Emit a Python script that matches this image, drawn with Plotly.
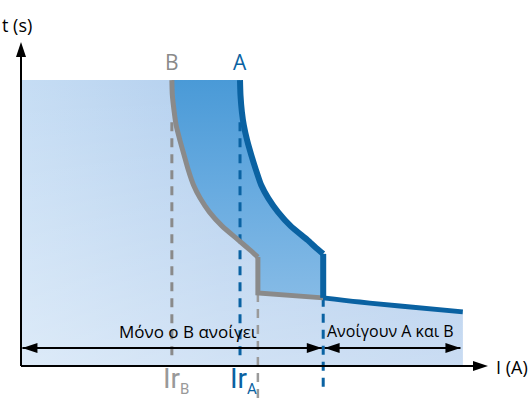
import plotly.graph_objects as go

# ---------------- data (arbitrary units: current I on x, time t on y) ----------------
curve_B_I = [32.1, 32.2, 32.6, 33.0, 33.8, 34.7, 35.6, 36.7, 38.1, 40.1, 42.8, 46.2, 48.7, 50.4]
curve_B_t = [87.7, 83.1, 77.9, 73.9, 69.3, 64.7, 60.1, 55.5, 51.5, 47.2, 42.9, 38.7, 35.6, 33.4]
tail_B_I = [50.4, 50.4, 64.3]
tail_B_t = [33.4, 22.4, 20.9]

curve_A_I = [46.6, 46.7, 47.0, 47.4, 48.1, 49.0, 50.0, 51.1, 52.6, 54.7, 57.4, 60.9, 62.8, 64.3]
curve_A_t = [87.7, 83.1, 77.9, 73.9, 69.3, 64.7, 60.1, 55.5, 51.5, 47.2, 42.9, 38.7, 36.2, 34.4]
tail_A_I = [64.3, 64.3, 72.1, 80.6, 94.0]
tail_A_t = [34.4, 20.9, 19.6, 18.4, 16.6]

t_top = 87.7          # upper limit of the curves
Ir_B = 32.1
Ir_A = 46.6
Ir_B_inst = 50.4
Ir_A_inst = 64.3
I_max = 94.0
arrow_t = 5.5
label_t = 10.7

GRAY = "#8a8a8a"
BLUE = "#0a62a2"
FONT = "Open Sans"

# pixel scale (for layout only)
SX = 4.7
SY = 3.26
x_range = [-21 / SX, 510 / SX]
y_range = [-32 / SY, 366 / SY]

fig = go.Figure()

# light fill: region under curve A
lx = [0, 0] + curve_A_I + tail_A_I[1:] + [I_max, 0]
ly = [0, t_top] + curve_A_t + tail_A_t[1:] + [0, 0]
fig.add_trace(go.Scatter(x=lx, y=ly, mode="lines", line=dict(width=0), fill="toself",
                         fillgradient=dict(type="horizontal", start=0, stop=I_max,
                                           colorscale=[[0, "#c6ddf4"], [0.45, "#b3cfee"], [1, "#a6c5ea"]]),
                         hoverinfo="skip", showlegend=False))
fig.add_trace(go.Scatter(x=lx, y=ly, mode="lines", line=dict(width=0), fill="toself",
                         fillgradient=dict(type="vertical", start=0, stop=t_top,
                                           colorscale=[[0, "rgba(255,255,255,0.4)"], [1, "rgba(255,255,255,0)"]]),
                         hoverinfo="skip", showlegend=False))

# dark fill: between curve B and curve A
dx = curve_B_I + tail_B_I[1:] + list(reversed(tail_A_I[:2])) + list(reversed(curve_A_I))
dy = curve_B_t + tail_B_t[1:] + list(reversed(tail_A_t[:2])) + list(reversed(curve_A_t))
fig.add_trace(go.Scatter(x=dx, y=dy, mode="lines", line=dict(width=0), fill="toself",
                         fillgradient=dict(type="vertical", start=20, stop=t_top,
                                           colorscale=[[0, "#86bbe6"], [0.5, "#68abe0"], [1, "#4a9ad7"]]),
                         hoverinfo="skip", showlegend=False))

# dashed reference lines
dash = "9px,7px"
fig.add_trace(go.Scatter(x=[Ir_B, Ir_B], y=[74.8, 2.8], mode="lines",
                         line=dict(color=GRAY, width=3, dash=dash), hoverinfo="skip", showlegend=False))
fig.add_trace(go.Scatter(x=[Ir_A, Ir_A], y=[74.8, 2.8], mode="lines",
                         line=dict(color=BLUE, width=3, dash=dash), hoverinfo="skip", showlegend=False))
fig.add_trace(go.Scatter(x=[Ir_B_inst, Ir_B_inst], y=[22.4, -9.8], mode="lines",
                         line=dict(color="#9a9a9a", width=2.5, dash=dash), hoverinfo="skip", showlegend=False))
fig.add_trace(go.Scatter(x=[Ir_A_inst, Ir_A_inst], y=[20.9, -8.0], mode="lines",
                         line=dict(color=BLUE, width=3, dash=dash), hoverinfo="skip", showlegend=False))

# curves
fig.add_trace(go.Scatter(x=curve_B_I, y=curve_B_t, mode="lines",
                         line=dict(color=GRAY, width=5, shape="spline", smoothing=0.6),
                         hoverinfo="skip", showlegend=False))
fig.add_trace(go.Scatter(x=tail_B_I, y=tail_B_t, mode="lines", line=dict(color=GRAY, width=5),
                         hoverinfo="skip", showlegend=False))
fig.add_trace(go.Scatter(x=curve_A_I, y=curve_A_t, mode="lines",
                         line=dict(color=BLUE, width=6, shape="spline", smoothing=0.6),
                         hoverinfo="skip", showlegend=False))
fig.add_trace(go.Scatter(x=tail_A_I[:2], y=tail_A_t[:2], mode="lines", line=dict(color=BLUE, width=6),
                         hoverinfo="skip", showlegend=False))
fig.add_trace(go.Scatter(x=tail_A_I[1:], y=tail_A_t[1:], mode="lines",
                         line=dict(color=BLUE, width=5, shape="spline"),
                         hoverinfo="skip", showlegend=False))

shapes = []


def line(x0, y0, x1, y1, w=2):
    shapes.append(dict(type="line", x0=x0, y0=y0, x1=x1, y1=y1, xref="x", yref="y",
                       line=dict(color="black", width=w)))


def head(tx, ty, direction, L=15, W=5):
    if direction == "right":
        bx = tx - L / SX
        p = f"M{tx},{ty} L{bx},{ty + W / SY} L{bx},{ty - W / SY} Z"
    elif direction == "left":
        bx = tx + L / SX
        p = f"M{tx},{ty} L{bx},{ty + W / SY} L{bx},{ty - W / SY} Z"
    else:
        by = ty - L / SY
        p = f"M{tx},{ty} L{tx + W / SX},{by} L{tx - W / SX},{by} Z"
    shapes.append(dict(type="path", path=p, xref="x", yref="y", fillcolor="black",
                       line=dict(color="black", width=0)))


# axes
x_tip = 467 / SX
y_tip = 324 / SY
line(0, 0, x_tip - 5 / SX, 0)
line(0, 0, 0, y_tip - 5 / SY)
head(x_tip, 0, "right")
head(0, y_tip, "up")

# double arrows
line(0.3, arrow_t, Ir_A_inst - 0.3, arrow_t)
head(0.3, arrow_t, "left")
head(Ir_A_inst - 0.3, arrow_t, "right")
line(Ir_A_inst + 0.3, arrow_t, I_max - 0.5, arrow_t)
head(Ir_A_inst + 0.3, arrow_t, "left")
head(I_max - 0.5, arrow_t, "right")

annotations = [
    dict(x=-0.9, y=104.5, text="t (s)", font=dict(size=18, color="black", family=FONT)),
    dict(x=104.5, y=-0.3, text="I (A)", font=dict(size=18, color="black", family=FONT)),
    dict(x=Ir_B, y=93.3, text="B", font=dict(size=21, color=GRAY, family=FONT)),
    dict(x=Ir_A, y=93.3, text="A", font=dict(size=21, color=BLUE, family=FONT)),
    dict(x=Ir_B - 2.3, y=1.9, text="Ir<sub><span style='font-size:15px'>B</span></sub>",
         xanchor="left", yanchor="top", font=dict(size=28, color="#999999", family="Roboto")),
    dict(x=Ir_A - 2.6, y=1.9, text="Ir<sub><span style='font-size:15px'>A</span></sub>",
         xanchor="left", yanchor="top", font=dict(size=28, color=BLUE, family="Roboto")),
    dict(x=35.5, y=label_t, text="Μόνο ο Β ανοίγει", font=dict(size=17, color="black", family=FONT)),
    dict(x=78.6, y=label_t, text="Ανοίγουν Α και Β", font=dict(size=16, color="black", family=FONT)),
]
for a in annotations:
    a.update(xref="x", yref="y", showarrow=False)

fig.update_layout(
    width=531, height=398,
    margin=dict(l=0, r=0, t=0, b=0),
    paper_bgcolor="white", plot_bgcolor="white",
    xaxis=dict(range=x_range, visible=False, fixedrange=True),
    yaxis=dict(range=y_range, visible=False, fixedrange=True),
    shapes=shapes, annotations=annotations, showlegend=False,
)

fig.write_html("out.html", config={"displayModeBar": False},
               post_script="document.body.style.margin='0';document.body.style.overflow='hidden';")
